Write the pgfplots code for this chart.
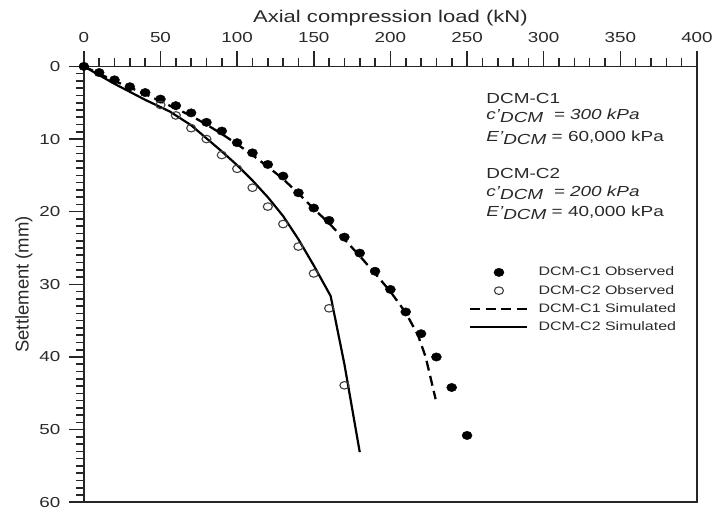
\documentclass[border=0pt]{standalone}
\usepackage{pgfplots}
\pgfplotsset{compat=1.18}
\usepackage{fontspec}
\setmainfont{Liberation Sans}[FakeStretch=1.3]
\newfontfamily\ylabfont{Liberation Sans}
\definecolor{txt}{rgb}{0.16,0.16,0.16}
\begin{document}
\begin{tikzpicture}
\begin{axis}[
  scale only axis, width=614pt, height=436.5pt,
  xmin=0, xmax=400, ymin=0, ymax=60, y dir=reverse,
  xtick={0,50,...,400}, ytick={0,10,...,60},
  minor x tick num=4, minor y tick num=9,
  xtick pos=upper, xticklabel pos=upper, ytick pos=left,
  tick align=outside,
  major tick length=15pt, minor tick length=8pt,
  every tick/.style={line width=1.6pt, black!85},
  axis line style={line width=1.6pt, black!85},
  /pgf/number format/assume math mode=true,
  ticklabel style={font=\fontsize{14.5}{16}\selectfont, text=txt},
  xticklabel style={yshift=5pt},
  yticklabel style={xshift=-5pt},
  xlabel={Axial compression load (kN)},
  xlabel style={font=\fontsize{17}{19}\selectfont, text=txt},
  ylabel={\ylabfont Settlement (mm)},
  ylabel style={font=\fontsize{18.5}{20}\selectfont, text=txt},
  clip=false,
  legend image code/.code={\draw[mark repeat=2,mark phase=2,#1] plot coordinates {(0pt,0pt) (28.5pt,0pt) (57pt,0pt)};},
  legend style={at={(axis cs:251.5,27.6)}, anchor=north west, draw=none, fill=none,
    inner sep=0pt, outer sep=0pt, column sep=10pt, row sep=7.3pt,
    font=\fontsize{12.3}{14}\selectfont, text=txt,
    nodes={inner sep=0pt, text height=9pt, text depth=2pt}},
  legend cell align=left,
]
\addplot[only marks, mark=*, mark size=4.2pt, black, mark options={xscale=1.2}] coordinates {
(0,0)(10,0.85)(20,1.85)(30,2.8)(40,3.6)(50,4.5)(60,5.4)(70,6.4)(80,7.7)(90,8.9)
(100,10.5)(110,11.9)(120,13.5)(130,15.1)(140,17.4)(150,19.5)(160,21.2)(170,23.5)
(180,25.7)(190,28.2)(200,30.7)(210,33.8)(220,36.8)(230,40.0)(240,44.2)(250,50.8)};
\addlegendentry{DCM-C1 Observed}
\addplot[only marks, mark=o, mark size=3.8pt, black!75, mark options={xscale=1.2, line width=1.1pt}] coordinates {
(50,5.3)(60,6.75)(70,8.5)(80,10.0)(90,12.2)(100,14.1)(110,16.7)(120,19.3)
(130,21.7)(140,24.8)(150,28.5)(160,33.3)(170,43.9)};
\addlegendentry{DCM-C2 Observed}
\addplot[black, line width=2.3pt, dash pattern=on 10pt off 5.5pt] coordinates {
(0,0)(10,1.0)(20,2.0)(30,2.9)(40,3.8)(50,4.8)(60,5.8)(70,6.8)(80,8.0)(90,9.3)
(100,10.7)(110,12.2)(120,13.8)(130,15.5)(140,17.5)(150,19.6)(160,21.6)(170,23.8)
(180,26.1)(190,28.5)(200,31.0)(210,33.9)(218,37.0)(223,40.0)(229.5,45.8)};
\addlegendentry{DCM-C1 Simulated}
\addplot[black, line width=2.2pt] coordinates {
(0,0)(20,2.4)(40,4.6)(56,6.2)(70,8.1)(90,11.7)(100,13.6)(110,15.7)(120,18.0)
(130,20.6)(140,23.8)(150,27.4)(161,31.6)(170,41.0)(180,53.1)};
\addlegendentry{DCM-C2 Simulated}
\begin{scope}[every node/.style={anchor=base west, inner sep=0pt, text=txt, font=\fontsize{14.6}{16}\selectfont}]
\node at (axis cs:262.5,5.06) {DCM-C1};
\node at (axis cs:262.5,7.35) {\itshape c'\raisebox{-3pt}{DCM}\ \ = 300 kPa};
\node at (axis cs:262.5,10.34) {\itshape E'\raisebox{-3pt}{DCM}\upshape\ = 60,000 kPa};
\node at (axis cs:262.5,15.37) {DCM-C2};
\node at (axis cs:262.5,17.9) {\itshape c'\raisebox{-3pt}{DCM}\ \ = 200 kPa};
\node at (axis cs:262.5,20.65) {\itshape E'\raisebox{-3pt}{DCM}\upshape\ = 40,000 kPa};
\end{scope}
\coordinate (bbl) at (axis cs:-54.7,61.5);
\coordinate (btr) at (axis cs:411.7,-9.14);
\end{axis}
\path (bbl) rectangle (btr);
\end{tikzpicture}
\end{document}
